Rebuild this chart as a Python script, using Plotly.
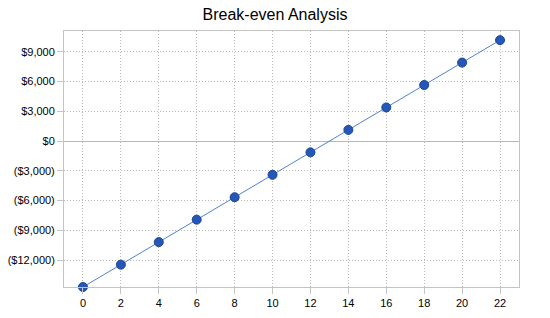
import plotly.graph_objects as go

months = [0, 2, 4, 6, 8, 10, 12, 14, 16, 18, 20, 22]
net_profit = [-14700, -12450, -10180, -7920, -5660, -3400, -1140, 1120, 3380, 5640, 7900, 10160]
y_ticks = [-12000, -9000, -6000, -3000, 0, 3000, 6000, 9000]
y_tick_labels = ["($12,000)", "($9,000)", "($6,000)", "($3,000)", "$0", "$3,000", "$6,000", "$9,000"]

fig = go.Figure()
fig.add_trace(go.Scatter(
    x=months, y=net_profit, mode="lines+markers",
    line=dict(color="#4f82d8", width=1),
    marker=dict(size=9, color="#2457b8", line=dict(color="#1a4596", width=1)),
    cliponaxis=False, showlegend=False,
))

fig.update_layout(
    width=550, height=318,
    margin=dict(l=64, r=31, t=31, b=31, autoexpand=False),
    paper_bgcolor="white", plot_bgcolor="white",
    font=dict(family="Liberation Sans, Arial, sans-serif", size=11, color="black"),
    title=dict(text="Break-even Analysis", x=0.5, xanchor="center", y=0.955, yanchor="middle",
               font=dict(size=16, color="black")),
)
fig.update_xaxes(
    range=[-1, 23], tickvals=months, ticktext=[str(m) for m in months],
    showgrid=True, gridcolor="#b8b8b8", griddash="1px,2px", gridwidth=1,
    showline=True, linecolor="#c4c4c4", linewidth=1, mirror=True,
    ticks="outside", ticklen=6, tickcolor="#c4c4c4", zeroline=False, automargin=False,
)
fig.update_yaxes(
    range=[-14700, 11080], tickvals=y_ticks, ticktext=y_tick_labels,
    showgrid=True, gridcolor="#b8b8b8", griddash="1px,2px", gridwidth=1,
    showline=True, linecolor="#c4c4c4", linewidth=1, mirror=True,
    ticks="outside", ticklen=6, tickcolor="#c4c4c4", automargin=False,
    zeroline=True, zerolinecolor="#b8b8b8", zerolinewidth=1,
)

fig.write_html("out.html")
